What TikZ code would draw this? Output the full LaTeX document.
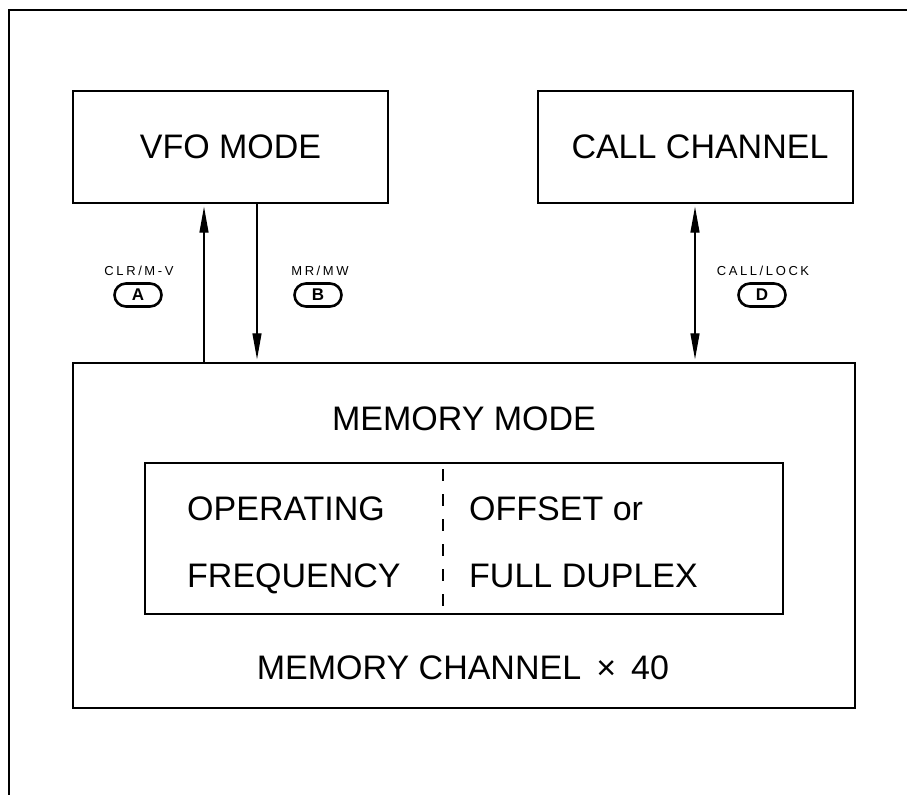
\documentclass[tikz,border=0pt]{standalone}
\usepackage{fontspec}
\setmainfont{Liberation Sans}
\usetikzlibrary{arrows.meta}
\begin{document}
\begin{tikzpicture}[x=1pt,y=-1pt,
  >={Triangle[length=26pt,width=9pt]},
  box/.style={draw, line width=1.4pt, inner sep=0pt},
  big/.style={font=\fontsize{34}{40}\selectfont, inner sep=0pt},
  small/.style={font=\fontsize{13}{15}\selectfont\addfontfeatures{LetterSpace=20}, inner sep=0pt},
  key/.style={draw, line width=2.6pt, rounded corners=11.5pt, minimum width=47pt, minimum height=23pt, inner sep=0pt, font=\fontsize{17}{20}\selectfont\bfseries},
  arr/.style={line width=1.3pt, shorten >=3pt, shorten <=0pt},
]
\useasboundingbox (0,0) rectangle (907,795);
% outer frame (cut off at the right and bottom)
\draw[line width=2pt] (907,10) -- (9,10) -- (9,795);

% boxes
\node[box, minimum width=315pt, minimum height=112pt] (vfo) at (230.5,147) {};
\node[box, minimum width=315pt, minimum height=112pt] (call) at (695.5,147) {};
\node[box, minimum width=782pt, minimum height=345pt] (mem) at (464,535.5) {};
\node[box, minimum width=638pt, minimum height=151pt] (inner) at (464,538.5) {};

% texts
\node[big, anchor=base] (vfot) at (230.5,158) {VFO MODE};
\node[big, anchor=base] (callt) at (700,158) {CALL CHANNEL};
\node[big, anchor=base] (memt) at (464,430) {MEMORY MODE};
\node[big, anchor=base west] (op) at (187,520) {OPERATING};
\node[big, anchor=base west] (fr) at (187,587) {FREQUENCY};
\node[big, anchor=base west] (off) at (469,520) {OFFSET or};
\node[big, anchor=base west] (fd) at (469,587) {FULL DUPLEX};
\node[big, anchor=base] (mc) at (463,679) {MEMORY CHANNEL\, ×\, 40};

% dashed divider
\draw[line width=1.4pt, dash pattern=on 12pt off 13pt, dash phase=-7pt] (443,0 |- inner.north) -- (443,0 |- inner.south);

% connectors
\draw[arr, ->] (204,0 |- mem.north) -- (204,0 |- vfo.south);
\draw[arr, ->] (257,0 |- vfo.south) -- (257,0 |- mem.north);
\draw[arr, shorten <=3pt, <->] (695,0 |- call.south) -- (695,0 |- mem.north);

% key labels and keys
\node[small, anchor=base] (la) at (139,275) {CLR/M-V};
\node[key] (ka) at (138,295) {A};
\node[small, anchor=base] (lb) at (320,275) {MR/MW};
\node[key] (kb) at (318,295) {B};
\node[small, anchor=base] (ld) at (763,275) {CALL/LOCK};
\node[key] (kd) at (762,295) {D};
\end{tikzpicture}
\end{document}
